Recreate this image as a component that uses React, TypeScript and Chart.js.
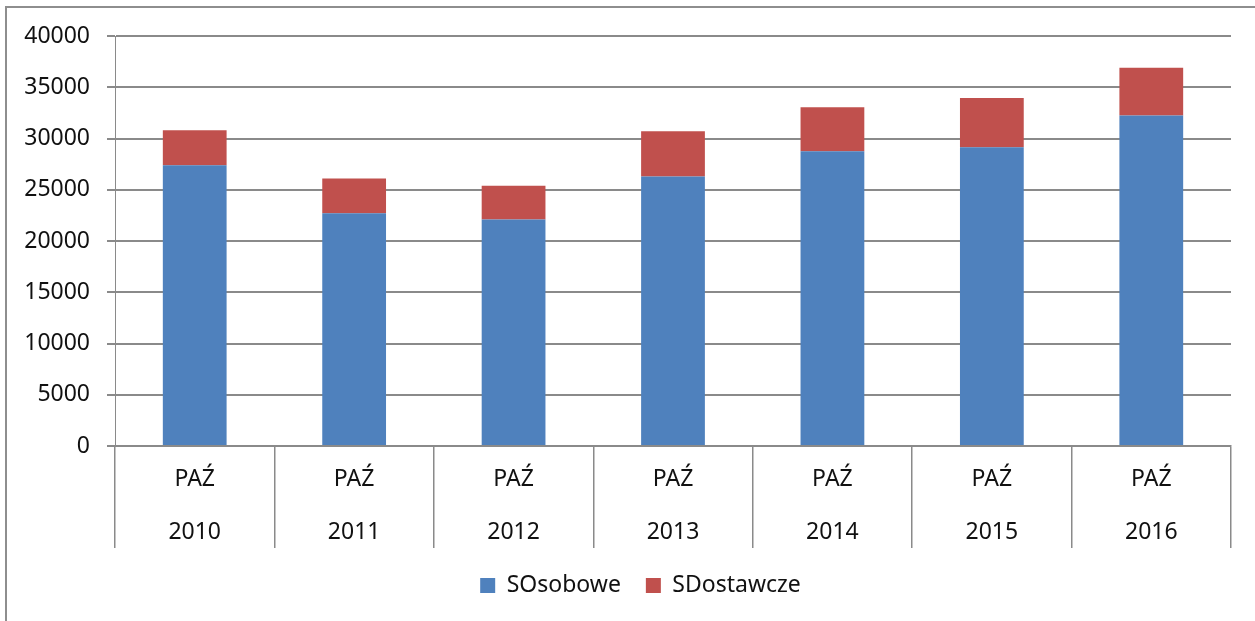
import React, { useEffect, useRef } from 'react';
import { Chart, registerables } from 'chart.js';

Chart.register(...registerables);

const months = ['PAŹ', 'PAŹ', 'PAŹ', 'PAŹ', 'PAŹ', 'PAŹ', 'PAŹ'];
const years = ['2010', '2011', '2012', '2013', '2014', '2015', '2016'];
const osobowe = [27400, 22700, 22100, 26300, 28750, 29150, 32250];
const dostawcze = [3400, 3400, 3300, 4400, 4300, 4800, 4650];
const yMin = 0;
const yMax = 40000;
const yStep = 5000;

const FONT = "'Noto Sans', 'Open Sans', sans-serif";
const GRID = '#8a8a8a';
const TEXT = '#111111';

const legendShift = {
  id: 'legendShift',
  afterLayout(chart: any) {
    if (chart.legend) {
      chart.legend.left = 50;
    }
  },
};

export default function App() {
  const ref = useRef<HTMLCanvasElement>(null);

  useEffect(() => {
    if (!ref.current) return;
    const labels = months.map((m, i) => [m, years[i]]);
    const chart = new Chart(ref.current, {
      type: 'bar',
      data: {
        labels,
        datasets: [
          {
            label: 'SOsobowe',
            data: osobowe,
            backgroundColor: '#4F81BD',
            borderWidth: 0,
            barPercentage: 0.4,
            categoryPercentage: 1,
          },
          {
            label: 'SDostawcze',
            data: dostawcze,
            backgroundColor: '#C0504D',
            borderWidth: 0,
            barPercentage: 0.4,
            categoryPercentage: 1,
          },
        ],
      },
      plugins: [legendShift],
      options: {
        responsive: false,
        animation: false,
        layout: { padding: { left: 10, right: 24, top: 36, bottom: 14 } },
        plugins: {
          legend: {
            position: 'bottom',
            labels: {
              boxWidth: 15,
              boxHeight: 15,
              padding: 25,
              color: TEXT,
              font: { family: FONT, size: 23 },
            },
          },
          tooltip: { enabled: false },
          title: { display: false },
        },
        scales: {
          x: {
            stacked: true,
            offset: true,
            grid: {
              display: true,
              offset: true,
              drawOnChartArea: false,
              drawTicks: true,
              tickLength: 102,
              color: GRID,
              lineWidth: 1.5,
            },
            border: { display: true, color: GRID, width: 1.5 },
            ticks: {
              color: TEXT,
              padding: -95.5,
              maxRotation: 0,
              autoSkip: false,
              font: { family: FONT, size: 23, lineHeight: '53px' },
            },
            afterFit: (scale: any) => {
              scale.height = 103;
            },
          },
          y: {
            stacked: true,
            min: yMin,
            max: yMax,
            grid: {
              color: GRID,
              lineWidth: 2,
              drawTicks: true,
              tickLength: 8,
            },
            border: { display: true, color: GRID, width: 1 },
            ticks: {
              stepSize: yStep,
              color: TEXT,
              padding: 17,
              font: { family: FONT, size: 23 },
              callback: (v: any) => String(v),
            },
            afterFit: (scale: any) => {
              scale.width = 105;
            },
          },
        },
      },
    });
    return () => chart.destroy();
  }, []);

  return (
    <div
      style={{
        position: 'absolute',
        left: 0,
        top: 0,
        width: 1255,
        height: 621,
        overflow: 'hidden',
        background: '#fff',
      }}
    >
      <canvas ref={ref} width={1255} height={621} style={{ position: 'absolute', left: 0, top: 0, width: 1255, height: 621 }} />
      <div
        style={{
          position: 'absolute',
          left: 5,
          top: 6,
          width: 1300,
          height: 700,
          borderLeft: '2px solid #8e8e8e',
          borderTop: '2px solid #8e8e8e',
          pointerEvents: 'none',
        }}
      />
    </div>
  );
}
